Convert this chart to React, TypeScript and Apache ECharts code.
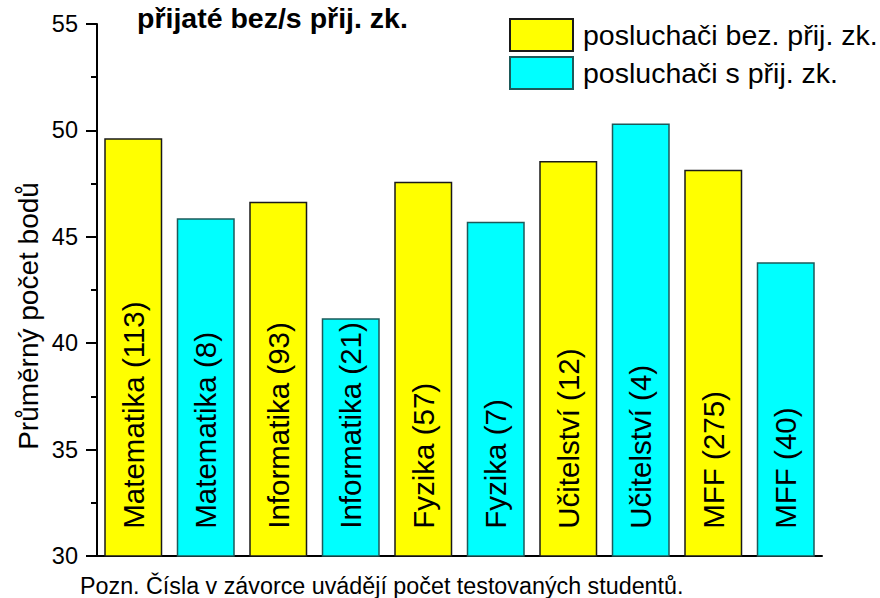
import React, { useEffect, useRef } from "react";
import * as echarts from "echarts";

const categories = [
  "Matematika (113)",
  "Matematika (8)",
  "Informatika (93)",
  "Informatika (21)",
  "Fyzika (57)",
  "Fyzika (7)",
  "Učitelství (12)",
  "Učitelství (4)",
  "MFF (275)",
  "MFF (40)",
];
const values = [49.63, 45.87, 46.65, 41.17, 47.59, 45.71, 48.56, 50.32, 48.15, 43.8];
const groupOf = [0, 1, 0, 1, 0, 1, 0, 1, 0, 1];
const seriesNames = ["posluchači bez. přij. zk.", "posluchači s přij. zk."];
const seriesColors = ["#ffff00", "#00ffff"];
const seriesBorders = ["#1a1a1a", "#1d5a5a"];
const yMin = 30;
const yMax = 55;
const yInterval = 5;
const titleText = "přijaté bez/s přij. zk.";
const yAxisTitle = "Průměrný počet bodů";
const noteText = "Pozn. Čísla v závorce uvádějí počet testovaných studentů.";

const FONT = "'Liberation Sans', Arial, sans-serif";

export default function App() {
  const ref = useRef<HTMLDivElement>(null);
  useEffect(() => {
    if (!ref.current) return;
    const chart = echarts.init(ref.current, undefined, { renderer: "svg" });
    const series = seriesNames.map((name, g) => ({
      name,
      type: "bar",
      stack: "all",
      barWidth: "80%",
      data: values.map((v, i) => (groupOf[i] === g ? v : null)),
      itemStyle: {
        color: seriesColors[g],
        borderColor: seriesBorders[g],
        borderWidth: 1.5,
      },
      label: {
        show: true,
        formatter: "{b}",
        position: "insideBottom",
        rotate: 90,
        align: "left",
        verticalAlign: "middle",
        distance: 28,
        fontSize: 29.5,
        fontFamily: FONT,
        color: "#000",
      },
    }));
    chart.setOption({
      animation: false,
      textStyle: { fontFamily: FONT },
      grid: { left: 97, right: 58, top: 24, bottom: 42, containLabel: false },
      legend: {
        orient: "vertical",
        left: 509,
        top: 18,
        padding: 0,
        itemWidth: 63,
        itemHeight: 32,
        itemGap: 4,
        icon: "rect",
        textStyle: { fontSize: 28.5, fontFamily: FONT, color: "#000", padding: [0, 0, 0, 5] },
        data: seriesNames,
      },
      xAxis: {
        type: "category",
        data: categories,
        axisLine: { show: true, lineStyle: { color: "#000", width: 2 } },
        axisTick: { show: false },
        axisLabel: { show: false },
      },
      yAxis: {
        type: "value",
        min: yMin,
        max: yMax,
        interval: yInterval,
        axisLine: { show: true, lineStyle: { color: "#000", width: 2 } },
        axisTick: { show: true, length: 11, lineStyle: { color: "#000", width: 2 } },
        minorTick: { show: true, splitNumber: 2, length: 6, lineStyle: { color: "#000", width: 2 } },
        splitLine: { show: false },
        axisLabel: { fontSize: 23.5, color: "#000", fontFamily: FONT, margin: 19 },
      },
      graphic: [
        {
          type: "text",
          left: 137,
          top: 3,
          style: { text: titleText, fontSize: 28.5, fontWeight: "bold", fontFamily: FONT, fill: "#000" },
        },
        {
          type: "text",
          x: 28,
          y: 316,
          rotation: Math.PI / 2,
          style: {
            text: yAxisTitle,
            fontSize: 28,
            fontFamily: FONT,
            fill: "#000",
            align: "center",
            verticalAlign: "middle",
          },
        },
        {
          type: "text",
          left: 80,
          top: 574,
          style: { text: noteText, fontSize: 23.3, fontFamily: FONT, fill: "#000" },
        },
      ],
      series,
    });
    return () => chart.dispose();
  }, []);
  return (
    <div
      ref={ref}
      style={{ position: "fixed", left: 0, top: 0, width: 880, height: 598, background: "#fff" }}
    />
  );
}
